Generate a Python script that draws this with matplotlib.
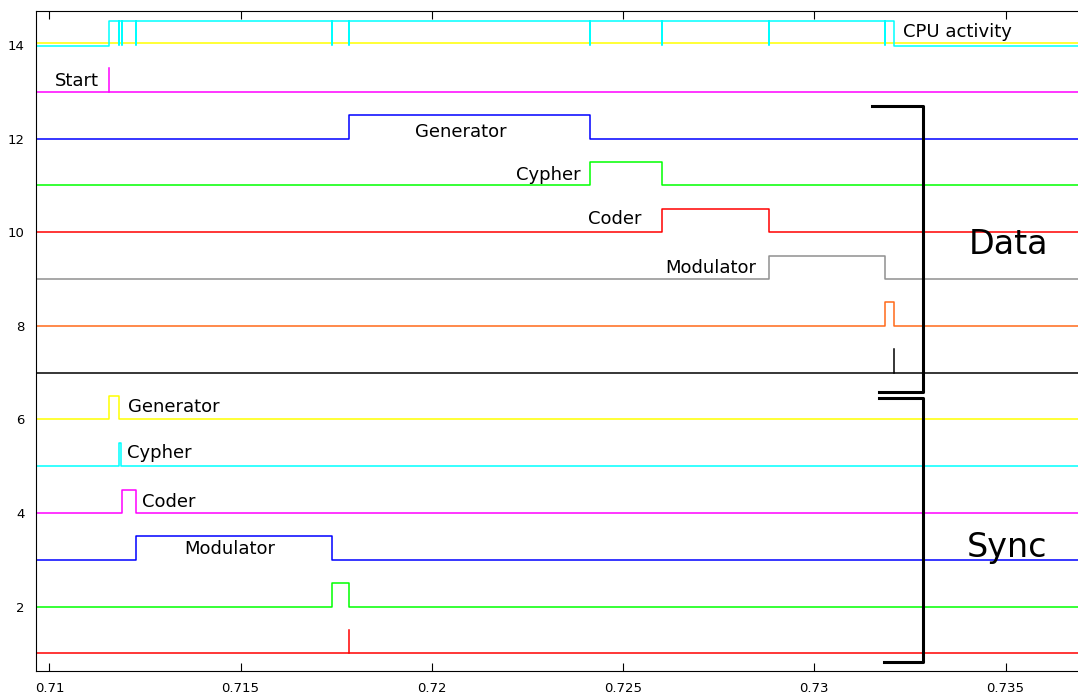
import matplotlib
matplotlib.use("Agg")
import matplotlib.pyplot as plt

# time axis limits and event times (seconds)
t_start = 0.71157

# sync chain: (baseline, rise, fall, colour)
sync_levels = [6, 5, 4, 3, 2]
sync_rise = [0.71157, 0.71182, 0.71189, 0.71226, 0.71739]
sync_fall = [0.71183, 0.71188, 0.71226, 0.71739, 0.71784]
sync_colors = ['#ffff00', '#00ffff', '#ff00ff', '#0000ff', '#00ff00']
sync_names = ['Generator', 'Cypher', 'Coder', 'Modulator', '']
sync_spike = 0.71784  # red line at level 1

# data chain
data_levels = [12, 11, 10, 9, 8]
data_rise = [0.71784, 0.72414, 0.72601, 0.72882, 0.73185]
data_fall = [0.72414, 0.72601, 0.72882, 0.73185, 0.73209]
data_colors = ['#0000ff', '#00ff00', '#ff0000', '#909090', '#ff6a1a']
data_names = ['Generator', 'Cypher', 'Coder', 'Modulator', '']
data_spike = 0.73209  # black line at level 7

# cpu activity: busy from start to end, short dips at every switch
cpu_busy = (0.71157, 0.73209)
cpu_dips = [0.71183, 0.71190, 0.71226, 0.71739, 0.71784,
            0.72414, 0.72601, 0.72882, 0.73185]

xmin, xmax = 0.70965, 0.736894
lw = 1.1

fig = plt.figure(figsize=(10.78, 6.96), dpi=100)
ax = fig.add_axes([36/1078, 25/696, 1 - 36/1078, (671 - 10.7)/696])


def pulse(ax, level, rise, fall, color, h=0.5):
    ax.plot([xmin, rise, rise, fall, fall, xmax],
            [level, level, level + h, level + h, level, level],
            color=color, lw=lw)


def spike(ax, level, t, color, h=0.5):
    ax.plot([xmin, xmax], [level, level], color=color, lw=lw)
    ax.plot([t, t], [level, level + h], color=color, lw=lw)


# level 14: yellow idle line + cyan cpu activity
ax.plot([xmin, xmax], [14.03, 14.03], color='#ffff00', lw=lw)
xs = [xmin, cpu_busy[0], cpu_busy[0]]
ys = [13.97, 13.97, 14.5]
for d in cpu_dips:
    xs += [d, d, d]
    ys += [14.5, 14.0, 14.5]
xs += [cpu_busy[1], cpu_busy[1], xmax]
ys += [14.5, 13.97, 13.97]
ax.plot(xs, ys, color='#00ffff', lw=lw)

# start marker
spike(ax, 13, t_start, '#ff00ff')

for lev, r, f, c in zip(data_levels, data_rise, data_fall, data_colors):
    pulse(ax, lev, r, f, c)
spike(ax, 7, data_spike, 'black')

for lev, r, f, c in zip(sync_levels, sync_rise, sync_fall, sync_colors):
    pulse(ax, lev, r, f, c)
spike(ax, 1, sync_spike, '#ff0000')

# labels
fs = 13
ax.text(0.732319, 14.28, 'CPU activity', fontsize=fs, va='center')
ax.text(0.710149, 13.23, 'Start', fontsize=fs, va='center')
data_lx = [0.719567, 0.722200, 0.724076, 0.726096]
data_ly = [12.14, 11.22, 10.28, 9.235]
for name, x, y in zip(data_names, data_lx, data_ly):
    ax.text(x, y, name, fontsize=fs, va='center')
sync_lx = [0.712058, 0.712031, 0.712424, 0.713522]
sync_ly = [6.265, 5.28, 4.235, 3.23]
for name, x, y in zip(sync_names, sync_lx, sync_ly):
    ax.text(x, y, name, fontsize=fs, va='center')

ax.text(0.734044, 9.73, 'Data', fontsize=24, va='center')
ax.text(0.733992, 3.27, 'Sync', fontsize=24, va='center')

# brackets
ax.plot([0.731508, 0.732841, 0.732841, 0.731691],
        [12.70, 12.70, 6.575, 6.575], color='black', lw=2.2)
ax.plot([0.731691, 0.732841, 0.732841, 0.731822],
        [6.457, 6.457, 0.823, 0.823], color='black', lw=2.2)

ax.set_xlim(xmin, xmax)
ax.set_ylim(0.626, 14.73)
ax.set_xticks([0.71, 0.715, 0.72, 0.725, 0.73, 0.735])
ax.set_xticklabels(['0.71', '0.715', '0.72', '0.725', '0.73', '0.735'])
ax.set_yticks([2, 4, 6, 8, 10, 12, 14])
ax.tick_params(axis='x', direction='in', top=True, length=6, labelsize=9.5, pad=8)
ax.tick_params(axis='y', length=0, labelsize=9.5, pad=8)
ax.spines['right'].set_visible(False)

fig.savefig('out.png', dpi=100)
